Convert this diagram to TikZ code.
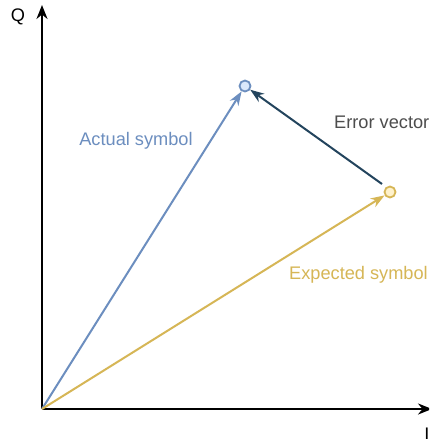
\documentclass[tikz,border=0pt]{standalone}
\usepackage{fontspec}
\setmainfont{Liberation Sans}
\usetikzlibrary{arrows.meta}
\definecolor{blueS}{HTML}{6C8EBF}
\definecolor{blueF}{HTML}{DAE8FC}
\definecolor{yelS}{HTML}{D6B656}
\definecolor{yelF}{HTML}{FFF2CC}
\definecolor{errC}{HTML}{23445D}
\definecolor{txtC}{HTML}{4D4D4D}
\tikzset{
  lbl/.style={font=\fontsize{18.2}{21}\selectfont, inner sep=0pt},
  axis/.style={line width=2pt, black, -{Stealth[length=14pt,width=11pt]}},
  vec/.style={line width=2pt, -{Stealth[length=14pt,width=10pt]}},
  pt/.style={circle, minimum size=11pt, inner sep=0pt, line width=1.8pt}
}
\begin{document}
\begin{tikzpicture}[x=1pt,y=-1pt]
\clip (0,0) rectangle (429,439);
\fill[white] (0,0) rectangle (429,439);
\coordinate (O) at (42,409);
\coordinate (Qtop) at (42,5);
\coordinate (Iend) at (432,409);
\draw[axis] (O) -- (Qtop);
\draw[axis] (O) -- (Iend);
\node[lbl] (Q) at (18,17) {Q};
\node[lbl] (I) at (427,434) {I};
\node[pt, draw=blueS, fill=blueF] (A) at (245,86) {};
\node[pt, draw=yelS, fill=yelF] (E) at (390,192) {};
\draw[vec, blueS] (O) -- (A);
\draw[vec, yelS] (O) -- (E);
\draw[vec, errC] (382,184) -- (A);
\node[lbl, text=blueS] (Al) at (136,141) {Actual symbol};
\node[lbl, text=txtC, anchor=west] (El) at (334,122) {Error vector};
\node[lbl, text=yelS, anchor=east] (Xl) at (428,275) {Expected symbol};
\end{tikzpicture}
\end{document}
